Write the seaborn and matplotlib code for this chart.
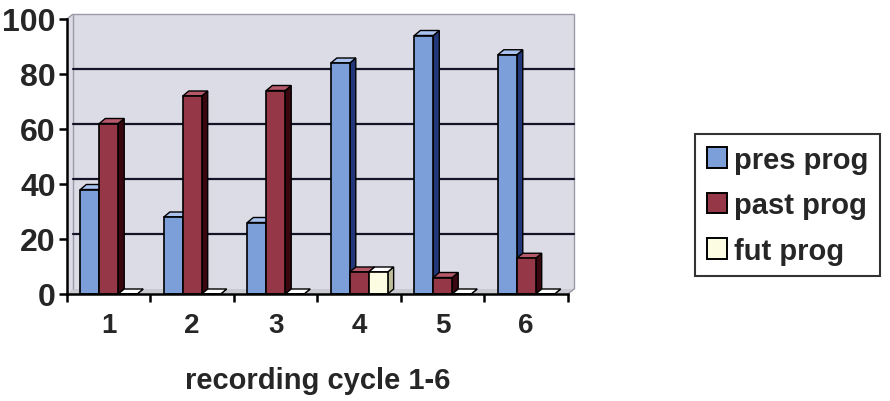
import numpy as np
import pandas as pd
import matplotlib
matplotlib.use("Agg")
import matplotlib.pyplot as plt
import matplotlib.transforms as mtransforms
from matplotlib.patches import Polygon, Patch, Rectangle
import seaborn as sns

# Share of forms per recording cycle (%)
cycles = ["1", "2", "3", "4", "5", "6"]
pres_prog = [38, 28, 26, 84, 94, 87]
past_prog = [62, 72, 74, 8, 6, 13]
fut_prog = [0, 0, 0, 8, 0, 0]
series_names = ["pres prog", "past prog", "fut prog"]
y_ticks = [0, 20, 40, 60, 80, 100]
x_title = "recording cycle 1-6"

front_colors = ["#7d9fd9", "#963747", "#fcfce2"]
side_colors = ["#23387a", "#3a0710", "#bdbd9c"]
top_colors = ["#a9c2ef", "#b5596a", "#ffffff"]

df = pd.DataFrame({
    "cycle": cycles * 3,
    "value": pres_prog + past_prog + fut_prog,
    "series": np.repeat(series_names, len(cycles)),
})

sns.set_style("white")
plt.rcParams["font.family"] = ["Liberation Sans", "DejaVu Sans"]
plt.rcParams["font.weight"] = "bold"

fig = plt.figure(figsize=(8.9, 4.02), dpi=100)
ax = fig.add_axes([67 / 890, 1 - 295 / 402, (568 - 67) / 890, (295 - 20) / 402])
ax.set_facecolor("none")

sns.barplot(data=df, x="cycle", y="value", hue="series", order=cycles,
            hue_order=series_names, palette=front_colors, width=0.68,
            saturation=1, edgecolor="black", linewidth=1.2, ax=ax, legend=False)

n = len(cycles)
ax.set_xlim(-0.5, n - 0.5)
ax.set_ylim(0, 100)

bars = sorted([p for p in ax.patches if isinstance(p, Rectangle)],
              key=lambda p: p.get_x())

PIX = mtransforms.IdentityTransform()

# 3D depth offsets in pixels (walls, bars)
DX, DY = 6, 5
DBX, DBY = 6, 5
back = mtransforms.offset_copy(ax.transData, fig=fig, x=DX, y=DY, units="dots")
to_px = ax.transData.transform


def add_poly(pts, **kw):
    p = Polygon(np.asarray(pts), closed=kw.pop("closed", True), transform=PIX,
                clip_on=False, **kw)
    ax.add_artist(p)
    return p


p00 = to_px((-0.5, 0)); p01 = to_px((-0.5, 100))
p11 = to_px((n - 0.5, 0)); p_tr = to_px((n - 0.5, 100))
d_wall = np.array([DX, DY])

# shaded walls: left strip, back wall, and a lighter floor strip
add_poly([p00, p01, p01 + d_wall, p_tr + d_wall, p11 + d_wall, p11],
         facecolor="#dcdce6", edgecolor="none", zorder=0.1)
add_poly([p00, p00 + d_wall, p11 + d_wall, p11],
         facecolor="#c9c9d2", edgecolor="none", zorder=0.15)
add_poly([p00 + d_wall, p01 + d_wall, p_tr + d_wall, p11 + d_wall], closed=False,
         facecolor="none", edgecolor="#9a9aa8", lw=1.0, zorder=0.2)
add_poly([p01, p01 + d_wall], closed=False, facecolor="none",
         edgecolor="#9a9aa8", lw=1.0, zorder=0.2)
add_poly([p11, p11 + d_wall], closed=False, facecolor="none",
         edgecolor="#9a9aa8", lw=1.0, zorder=0.2)

# gridlines on the back wall
for yv in y_ticks[1:-1]:
    ax.plot([-0.5, n - 0.5], [yv, yv], transform=back, color="#141428",
            lw=1.6, zorder=0.3, clip_on=False)

# side and top faces for each bar, stacked left to right
for i, bar in enumerate(bars):
    fc = bar.get_facecolor()
    k = min(range(3), key=lambda j: sum(abs(a - b) for a, b in zip(
        matplotlib.colors.to_rgba(front_colors[j]), fc)))
    x0, x1 = bar.get_x(), bar.get_x() + bar.get_width()
    h = bar.get_height()
    bl = to_px((x0, 0)); br = to_px((x1, 0)); tl = to_px((x0, h)); tr = to_px((x1, h))
    d = np.array([DBX, DBY])
    z = 1 + i * 0.01
    add_poly([br, tr, tr + d, br + d], facecolor=side_colors[k],
             edgecolor="black", lw=1.0, zorder=z)
    add_poly([tl, tr, tr + d, tl + d], facecolor=top_colors[k],
             edgecolor="black", lw=1.0, zorder=z)
    bar.set_zorder(z + 0.005)

# axes
for s in ["top", "right"]:
    ax.spines[s].set_visible(False)
for s in ["left", "bottom"]:
    ax.spines[s].set_color("black")
    ax.spines[s].set_linewidth(1.8)
    ax.spines[s].set_zorder(3)

ax.set_yticks(y_ticks)
ax.set_yticklabels([str(v) for v in y_ticks], fontsize=23, fontweight="bold")
ax.tick_params(axis="y", left=True, direction="out", length=6, width=1.8,
               color="black", pad=2)
ax.set_xticks(range(n))
ax.set_xticklabels(cycles, fontsize=20, fontweight="bold")
ax.set_xticks(np.arange(-0.5, n, 1.0), minor=True)
ax.tick_params(axis="x", which="major", bottom=True, length=0, pad=13)
ax.tick_params(axis="x", which="minor", bottom=True, direction="out", length=6,
               width=1.8, color="black")
ax.set_ylabel("")
ax.set_xlabel(x_title, fontsize=21, fontweight="bold", labelpad=20)

# legend
handles = [Patch(facecolor=c, edgecolor="black", lw=1.4) for c in front_colors]
leg = fig.legend(handles, series_names, loc="upper left",
                 bbox_to_anchor=(695 / 890, 1 - 135 / 402), frameon=True,
                 fancybox=False, edgecolor="black", fontsize=21,
                 handlelength=0.7, handleheight=0.7, handletextpad=0.25,
                 labelspacing=0.6, borderpad=0.4, borderaxespad=0)
leg.get_frame().set_linewidth(1.5)
for t in leg.get_texts():
    t.set_fontweight("bold")

fig.savefig("out.png", dpi=100)
